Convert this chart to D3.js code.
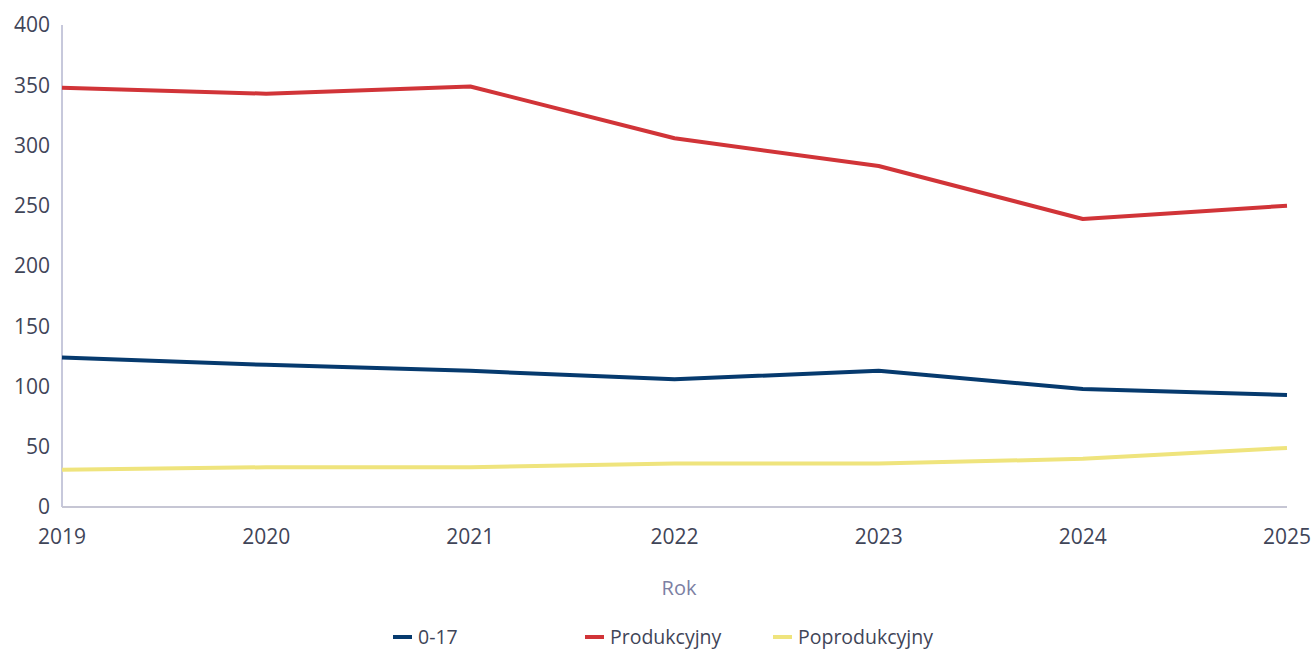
<!DOCTYPE html>
<html>
<head>
<meta charset="utf-8">
<script src="https://cdn.jsdelivr.net/npm/d3@7"></script>
<style>
body { margin: 0; background: #fff; }
text { font-family: "Open Sans", "Noto Sans", sans-serif; }
</style>
</head>
<body>
<div id="canvas"></div>
<script>
const years = [2019, 2020, 2021, 2022, 2023, 2024, 2025];
const kids = [124, 118, 113, 106, 113, 98, 93];
const working = [348, 343, 349, 306, 283, 239, 250];
const retired = [31, 33, 33, 36, 36, 40, 49];
const yTicks = [0, 50, 100, 150, 200, 250, 300, 350, 400];
const seriesNames = ["0-17", "Produkcyjny", "Poprodukcyjny"];
const seriesColors = ["#063a6e", "#d13438", "#efe47d"];

const W = 1312, H = 650;
const margin = {left: 62, right: 25, top: 25, bottom: 143};

const svg = d3.select("#canvas").append("svg").attr("width", W).attr("height", H);

const x = d3.scalePoint().domain(years).range([margin.left, W - margin.right]);
const y = d3.scaleLinear().domain([0, 400]).range([H - margin.bottom, margin.top]);

// axes
svg.append("line")
	.attr("x1", x(2019)).attr("x2", x(2019))
	.attr("y1", y(400)).attr("y2", y(0))
	.attr("stroke", "#8f92b8").attr("stroke-width", 1);
svg.append("line")
	.attr("x1", x(2019)).attr("x2", x(2025))
	.attr("y1", y(0)).attr("y2", y(0))
	.attr("stroke", "#c6c6d4").attr("stroke-width", 2);

svg.selectAll(".ytick").data(yTicks).enter().append("text")
	.attr("x", 50).attr("y", d => y(d))
	.attr("dy", "0.35em")
	.attr("text-anchor", "end")
	.attr("font-size", 21)
	.attr("fill", "#3f4558")
	.text(d => d);

svg.selectAll(".xtick").data(years).enter().append("text")
	.attr("x", d => x(d)).attr("y", y(0) + 30)
	.attr("dy", "0.35em")
	.attr("text-anchor", "middle")
	.attr("font-size", 21)
	.attr("fill", "#3f4558")
	.text(d => d);

svg.append("text")
	.attr("x", 679).attr("y", 588)
	.attr("dy", "0.35em")
	.attr("text-anchor", "middle")
	.attr("font-size", 20)
	.attr("fill", "#7c80a3")
	.text("Rok");

// lines
const line = d3.line().x((d, i) => x(years[i])).y(d => y(d));
[kids, working, retired].forEach((vals, k) => {
	svg.append("path")
		.datum(vals)
		.attr("d", line)
		.attr("fill", "none")
		.attr("stroke", seriesColors[k])
		.attr("stroke-width", 4)
		.attr("stroke-linejoin", "round");
});

// legend
const legendX = [393, 585, 773];
seriesNames.forEach((name, k) => {
	const g = svg.append("g").attr("transform", `translate(${legendX[k]},637)`);
	g.append("line").attr("x1", 0).attr("x2", 19).attr("y1", 0).attr("y2", 0)
		.attr("stroke", seriesColors[k]).attr("stroke-width", 4);
	g.append("text").attr("x", 25).attr("y", 0).attr("dy", "0.35em")
		.attr("font-size", 19.5).attr("fill", "#3f4558").text(name);
});
</script>
</body>
</html>
